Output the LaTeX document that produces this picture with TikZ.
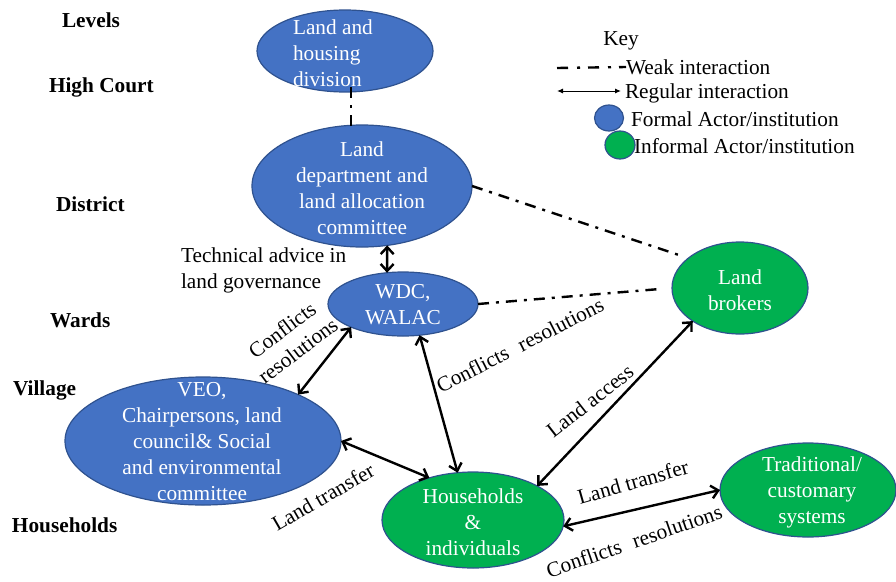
\documentclass[tikz,border=0pt]{standalone}
\usepackage{fontspec}
\setmainfont{Liberation Serif}
\newfontfamily\diagramfont{Liberation Serif}
\usetikzlibrary{shapes.geometric,arrows.meta}
\definecolor{formalblue}{HTML}{4472C4}
\definecolor{informalgreen}{HTML}{00B050}
\definecolor{rim}{HTML}{2F528F}
\begin{document}
\begin{tikzpicture}[x=1pt,y=-1pt,
  every node/.style={font=\diagramfont\fontsize{21.3}{26}\selectfont, inner sep=0pt, outer sep=0pt},
  formal/.style={ellipse, draw=rim, line width=1.2pt, fill=formalblue},
  informal/.style={ellipse, draw=rim, line width=1.2pt, fill=informalgreen},
  inner/.style={text=white, align=center},
  level/.style={font=\diagramfont\fontsize{21.3}{26}\selectfont\bfseries, anchor=west},
  lbl/.style={align=center},
  regular/.style={line width=2.4pt,
    {Straight Barb[length=7pt,width=13pt]}-{Straight Barb[length=7pt,width=13pt]}},
  weak/.style={line width=2.4pt, dash pattern=on 11pt off 7pt on 3pt off 7pt},
  keyarrow/.style={line width=1pt, {Latex[length=6pt,width=5pt]}-{Latex[length=6pt,width=5pt]}},
]
\useasboundingbox (0,0) rectangle (896,581);

% level labels
\node[level] (lvl)  at (62,20)  {Levels};
\node[level] (lhc)  at (49,87)  {High Court};
\node[level] (ldis) at (56,204) {District};
\node[level] (lwar) at (50,320) {Wards};
\node[level] (lvil) at (13,390) {Village};
\node[level] (lhh)  at (12,525) {Households};

% actors
\node[formal, minimum width=176pt, minimum height=82pt]  (lhd)     at (345,51)  {};
\node[formal, minimum width=220pt, minimum height=122pt] (ldept)   at (362,186) {};
\node[formal, minimum width=150pt, minimum height=64pt]  (wdc)     at (403,304) {};
\node[formal, minimum width=276pt, minimum height=128pt] (veo)     at (203,441) {};
\node[informal, minimum width=182pt, minimum height=96pt] (hh)     at (473,520) {};
\node[informal, minimum width=136pt, minimum height=92pt] (brokers) at (740,288) {};
\node[informal, minimum width=176pt, minimum height=94pt] (trad)   at (808,490) {};

% actor names
\node[inner, align=left, anchor=west] (lhdtext) at (293,53) {Land and\\housing\\division};
\node[inner] (ldepttext)   at (362,188) {Land\\department and\\land allocation\\committee};
\node[inner] (wdctext)     at (403,305) {WDC,\\WALAC};
\node[inner] (veotext)     at (202,442) {VEO,\\Chairpersons, land\\council\&\ Social\\and environmental\\committee};
\node[inner] (hhtext)      at (473,522) {Households\\\&\\individuals};
\node[inner] (brokerstext) at (740,290) {Land\\brokers};
\node[inner] (tradtext)    at (812,492) {Traditional/\\customary\\systems};

% weak interactions
\draw[weak] ([xshift=6pt,yshift=5pt]lhd.south) -- ([xshift=-11pt,yshift=-2pt]ldept.north);
\draw[weak, shorten >=10pt] (ldept.east) -- (brokers.150);
\draw[weak, shorten >=9pt] (wdc.east) -- (brokers.west);

% regular interactions
\draw[regular] (ldept.-67) -- (wdc.117);
\draw[regular] (wdc.204) -- (veo.26);
\draw[regular] (wdc.-62) -- (hh.108);
\draw[regular] (veo.east) -- (hh.136);
\draw[regular] (hh.28) -- (brokers.215);
\draw[regular] (hh.-4) -- (trad.west);

% connector labels
\node[align=left, anchor=west] (tech) at (181,270) {Technical advice in\\land governance};
\node[lbl, rotate=37] (cr1) at (290,340) {Conflicts\\resolutions};
\node[rotate=27] (cr2) at (520,345) {Conflicts\hspace{0.6em}resolutions};
\node[rotate=38] (la)  at (590,401) {Land access};
\node[rotate=30] (lt1) at (323,497) {Land transfer};
\node[rotate=16] (lt2) at (633,482) {Land transfer};
\node[rotate=19] (cr3) at (634,541) {Conflicts\hspace{0.6em}resolutions};

% key
\node (key) at (621,41) {Key};
\node[anchor=west] (kweak) at (626,67) {Weak interaction};
\coordinate (kweakstart) at (557,68);
\draw[weak, dash pattern=on 11pt off 9pt on 3pt off 8pt] (kweakstart) -- (kweak.west);
\node[anchor=west] (kreg) at (625,93) {Regular interaction};
\coordinate (kregstart) at (557,91);
\draw[keyarrow, shorten >=4pt] (kregstart) -- (kreg.west |- kregstart);
\node[formal, minimum width=29pt, minimum height=26pt] (kformal) at (609,118) {};
\node[anchor=west] (kformaltext) at (631,119) {Formal Actor/institution};
\node[informal, minimum width=30pt, minimum height=28pt] (kinformal) at (620,145) {};
\node[anchor=west] (kinformaltext) at (634,146) {Informal Actor/institution};
\end{tikzpicture}
\end{document}
